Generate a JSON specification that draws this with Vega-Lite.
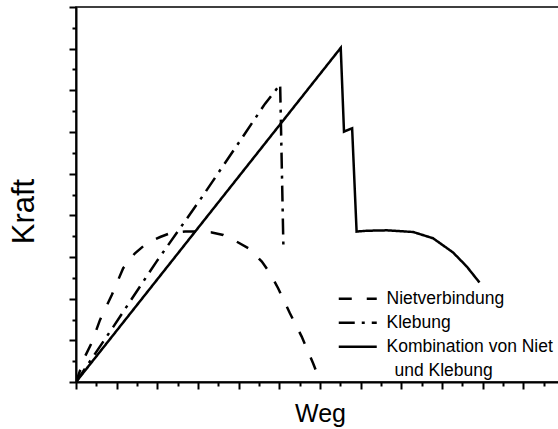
{
  "$schema": "https://vega.github.io/schema/vega-lite/v6.json",
  "width": 488,
  "height": 375,
  "autosize": {"type": "none"},
  "padding": {"left": 76, "top": 7, "right": 0, "bottom": 47},
  "background": "white",
  "config": {
    "view": {"stroke": "black", "strokeWidth": 1.5},
    "font": "Liberation Sans",
    "axis": {"domainColor": "black", "tickColor": "black", "grid": false, "labels": false, "titleColor": "black", "titleFontWeight": "normal", "titleFont": "Liberation Sans"}
  },
  "data": {
    "values": [
      {"series": "Nietverbindung", "order": 0, "x": 0, "y": 0},
      {"series": "Nietverbindung", "order": 1, "x": 0.22, "y": 0.61},
      {"series": "Nietverbindung", "order": 2, "x": 0.39, "y": 0.95},
      {"series": "Nietverbindung", "order": 3, "x": 0.59, "y": 1.49},
      {"series": "Nietverbindung", "order": 4, "x": 0.88, "y": 2.09},
      {"series": "Nietverbindung", "order": 5, "x": 1.16, "y": 2.73},
      {"series": "Nietverbindung", "order": 6, "x": 1.45, "y": 3.09},
      {"series": "Nietverbindung", "order": 7, "x": 1.74, "y": 3.33},
      {"series": "Nietverbindung", "order": 8, "x": 2.07, "y": 3.48},
      {"series": "Nietverbindung", "order": 9, "x": 2.31, "y": 3.57},
      {"series": "Nietverbindung", "order": 10, "x": 2.68, "y": 3.61},
      {"series": "Nietverbindung", "order": 11, "x": 2.97, "y": 3.61},
      {"series": "Nietverbindung", "order": 12, "x": 3.34, "y": 3.59},
      {"series": "Nietverbindung", "order": 13, "x": 3.62, "y": 3.53},
      {"series": "Nietverbindung", "order": 14, "x": 3.95, "y": 3.37},
      {"series": "Nietverbindung", "order": 15, "x": 4.24, "y": 3.21},
      {"series": "Nietverbindung", "order": 16, "x": 4.57, "y": 2.89},
      {"series": "Nietverbindung", "order": 17, "x": 4.77, "y": 2.61},
      {"series": "Nietverbindung", "order": 18, "x": 4.97, "y": 2.25},
      {"series": "Nietverbindung", "order": 19, "x": 5.26, "y": 1.65},
      {"series": "Nietverbindung", "order": 20, "x": 5.55, "y": 1.09},
      {"series": "Nietverbindung", "order": 21, "x": 5.83, "y": 0.45},
      {"series": "Nietverbindung", "order": 22, "x": 5.97, "y": 0.1},
      {"series": "Klebung", "order": 0, "x": 0, "y": 0},
      {"series": "Klebung", "order": 1, "x": 0.92, "y": 1.33},
      {"series": "Klebung", "order": 2, "x": 1.98, "y": 2.89},
      {"series": "Klebung", "order": 3, "x": 3.05, "y": 4.37},
      {"series": "Klebung", "order": 4, "x": 4.16, "y": 5.97},
      {"series": "Klebung", "order": 5, "x": 4.65, "y": 6.68},
      {"series": "Klebung", "order": 6, "x": 5.02, "y": 7.14},
      {"series": "Klebung", "order": 7, "x": 5.1, "y": 3.25},
      {"series": "Kombination von Niet und Klebung", "order": 0, "x": 0, "y": 0},
      {"series": "Kombination von Niet und Klebung", "order": 1, "x": 6.51, "y": 8.02},
      {"series": "Kombination von Niet und Klebung", "order": 2, "x": 6.59, "y": 6.01},
      {"series": "Kombination von Niet und Klebung", "order": 3, "x": 6.79, "y": 6.09},
      {"series": "Kombination von Niet und Klebung", "order": 4, "x": 6.9, "y": 3.61},
      {"series": "Kombination von Niet und Klebung", "order": 5, "x": 7.15, "y": 3.63},
      {"series": "Kombination von Niet und Klebung", "order": 6, "x": 7.64, "y": 3.64},
      {"series": "Kombination von Niet und Klebung", "order": 7, "x": 8.29, "y": 3.6},
      {"series": "Kombination von Niet und Klebung", "order": 8, "x": 8.78, "y": 3.45},
      {"series": "Kombination von Niet und Klebung", "order": 9, "x": 9.27, "y": 3.11},
      {"series": "Kombination von Niet und Klebung", "order": 10, "x": 9.61, "y": 2.77},
      {"series": "Kombination von Niet und Klebung", "order": 11, "x": 9.92, "y": 2.39}
    ]
  },
  "layer": [
    {
      "mark": {"type": "line", "color": "black", "strokeWidth": 2.5, "interpolate": "linear", "clip": true},
      "encoding": {
        "x": {"field": "x", "type": "quantitative", "scale": {"domain": [0, 12], "nice": false},
          "axis": {"orient": "bottom", "values": [0,1,2,3,4,5,6,7,8,9,10,11,12], "tickSize": 7, "tickWidth": 2, "domainWidth": 2, "title": "Weg", "titleFontSize": 25, "titleBaseline": "alphabetic", "titleX": 244, "titleY": 39}},
        "y": {"field": "y", "type": "quantitative", "scale": {"domain": [0, 9], "nice": false},
          "axis": {"orient": "left", "values": [0,1,2,3,4,5,6,7,8,9], "tickSize": 7, "tickWidth": 2, "domainWidth": 2, "title": "Kraft", "titleFontSize": 31, "titleBaseline": "alphabetic", "titleX": -43, "titleY": 204}},
        "order": {"field": "order", "type": "quantitative"},
        "detail": {"field": "series", "type": "nominal"},
        "strokeDash": {"field": "series", "type": "nominal",
          "scale": {"domain": ["Nietverbindung", "Klebung", "Kombination von Niet und Klebung", "und Klebung"],
                    "range": [[13, 15], [16, 7, 3, 7], [1, 0], [1, 0]]},
          "legend": {
            "title": null, "orient": "none", "legendX": 259, "legendY": 283,
            "symbolType": "M-1,0H6.6", "symbolSize": 100, "symbolStrokeWidth": 2.5, "symbolStrokeColor": "black", "symbolFillColor": "transparent",
            "labelFontSize": 17.5, "labelColor": "black", "labelFont": "Liberation Sans", "labelOffset": 34, "labelLimit": 300,
            "rowPadding": 5, "padding": 0,
            "labelExpr": "datum.label == 'Kombination von Niet und Klebung' ? 'Kombination von Niet' : datum.label",
            "encode": {
              "symbols": {"update": {"strokeOpacity": {"signal": "datum.value === 'und Klebung' ? 0 : 1"}}},
              "labels": {"update": {"dx": {"signal": "datum.value === 'und Klebung' ? 8 : 0"}}}
            }
          }
        }
      }
    },
    {
      "mark": {"type": "point", "opacity": 0},
      "encoding": {
        "x": {"field": "x", "type": "quantitative",
          "axis": {"orient": "bottom", "values": [0.5,1.5,2.5,3.5,4.5,5.5,6.5,7.5,8.5,9.5,10.5,11.5], "tickSize": 4, "tickWidth": 2, "domain": false, "title": null}},
        "y": {"field": "y", "type": "quantitative",
          "axis": {"orient": "left", "values": [0.5,1.5,2.5,3.5,4.5,5.5,6.5,7.5,8.5], "tickSize": 4, "tickWidth": 2, "domain": false, "title": null}}
      }
    }
  ],
  "resolve": {"axis": {"x": "independent", "y": "independent"}}
}
